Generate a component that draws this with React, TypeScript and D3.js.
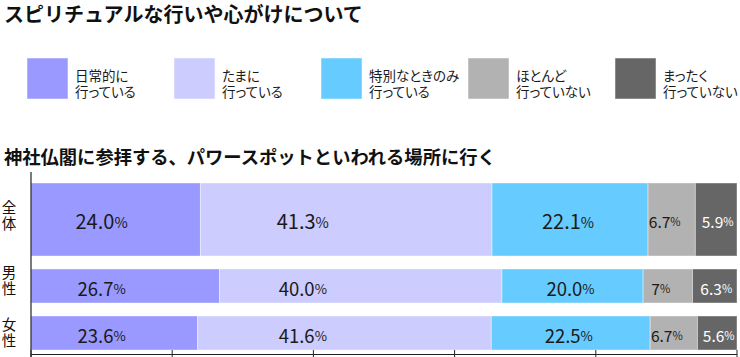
import React from "react";
import * as d3 from "d3";

const title = "スピリチュアルな行いや心がけについて";
const subtitle = "神社仏閣に参拝する、パワースポットといわれる場所に行く";
const seriesNames = [
  ["日常的に", "行っている"],
  ["たまに", "行っている"],
  ["特別なときのみ", "行っている"],
  ["ほとんど", "行っていない"],
  ["まったく", "行っていない"],
];
const categories = ["全体", "男性", "女性"];
const valuesAll = [24.0, 41.3, 22.1, 6.7, 5.9];
const valuesMale = [26.7, 40.0, 20.0, 7, 6.3];
const valuesFemale = [23.6, 41.6, 22.5, 6.7, 5.6];
const labelsAll = ["24.0", "41.3", "22.1", "6.7", "5.9"];
const labelsMale = ["26.7", "40.0", "20.0", "7", "6.3"];
const labelsFemale = ["23.6", "41.6", "22.5", "6.7", "5.6"];
const xTicks = [0, 20, 40, 60, 80, 100];

const rowsValues = [valuesAll, valuesMale, valuesFemale];
const rowsLabels = [labelsAll, labelsMale, labelsFemale];

// styles / layout
const colors = ["#9999ff", "#ccccff", "#66ccff", "#b2b2b2", "#666666"];
const textColors = ["#1a1a1a", "#1a1a1a", "#1a1a1a", "#1a1a1a", "#ffffff"];
const rowHeights = [73, 34, 34];
const rowGap = 13;
const barTop = 183;
const catLabelOffset = [-3, -4.5, 0];
// label placement: fixed value position (in %) for first two series, otherwise center + px offset
const fixedLabelAt: (number | null)[] = [10, 38.5, null, null, null];
const labelPxOffset = [0, 0, -2, -7, 1.5];

const FONT = "'Noto Sans CJK JP', 'Noto Sans', sans-serif";
const LEGEND_FONT = "'Liberation Sans', 'Noto Sans CJK JP', sans-serif";

export default function App() {
  const x = d3.scaleLinear().domain([0, 100]).range([31, 737]);
  const rowY: number[] = [];
  let acc = barTop;
  rowHeights.forEach((h) => {
    rowY.push(acc);
    acc += h + rowGap;
  });
  const axisY = 354.5;

  return (
    <svg
      width={740}
      height={357}
      style={{ position: "absolute", left: 0, top: 0, background: "#fff" }}
      fontFamily={FONT}
    >
      <rect width={740} height={357} fill="#fff" />
      <text x={4} y={22} fontSize={20} fontWeight="bold" fill="#111">
        {title}
      </text>
      {seriesNames.map((lines, i) => {
        const lx = 27 + i * 147;
        return (
          <g key={i}>
            <rect x={lx} y={58} width={41} height={41} fill={colors[i]} stroke="#fff" strokeOpacity={0.5} />
            {lines.map((ln, k) => (
              <text
                key={k}
                x={lx + 48}
                y={80.5 + k * 16.5}
                fontSize={13.5}
                fontFamily={LEGEND_FONT}
                fill="#1a1a1a"
                style={{ fontFeatureSettings: "'palt'" }}
              >
                {ln}
              </text>
            ))}
          </g>
        );
      })}
      <text x={4} y={164} fontSize={18.3} fontWeight="bold" fill="#111">
        {subtitle}
      </text>

      {rowsValues.map((vals, r) => {
        const stack = d3.cumsum([0, ...vals]);
        const y0 = rowY[r];
        const h = rowHeights[r];
        const fs = r === 0 ? 20 : 18.5;
        const smallFs = 15.5;
        const cy = y0 + h / 2;
        return (
          <g key={r}>
            {vals.map((v, i) => {
              const xa = x(stack[i]);
              const xb = x(stack[i + 1]);
              const fixed = fixedLabelAt[i];
              const cx = fixed !== null ? x(fixed) : (xa + xb) / 2 + labelPxOffset[i];
              const f = i >= 3 ? smallFs : fs;
              return (
                <g key={i}>
                  <rect x={xa} y={y0} width={xb - xa} height={h} fill={colors[i]} stroke="#fff" strokeOpacity={0.4} strokeWidth={1} />
                  <text
                    x={cx}
                    y={cy + (r === 0 ? 1 : 2)}
                    textAnchor="middle"
                    dominantBaseline="central"
                    fontSize={f}
                    fill={textColors[i]}
                  >
                    {rowsLabels[r][i]}
                    <tspan fontSize={f * 0.72}>%</tspan>
                  </text>
                </g>
              );
            })}
            <text
              x={9}
              y={cy + catLabelOffset[r]}
              fontSize={14.5}
              fill="#111"
              textAnchor="middle"
              style={{ writingMode: "vertical-rl", letterSpacing: "1.5px" }}
            >
              {categories[r]}
            </text>
          </g>
        );
      })}

      <line x1={31} x2={31} y1={172} y2={357} stroke="#222" strokeWidth={1.2} />
      <line x1={31} x2={737} y1={axisY} y2={axisY} stroke="#222" strokeWidth={1.2} />
      {xTicks.map((t) => (
        <line key={t} x1={x(t)} x2={x(t)} y1={350} y2={357} stroke="#222" strokeWidth={1} />
      ))}
    </svg>
  );
}
